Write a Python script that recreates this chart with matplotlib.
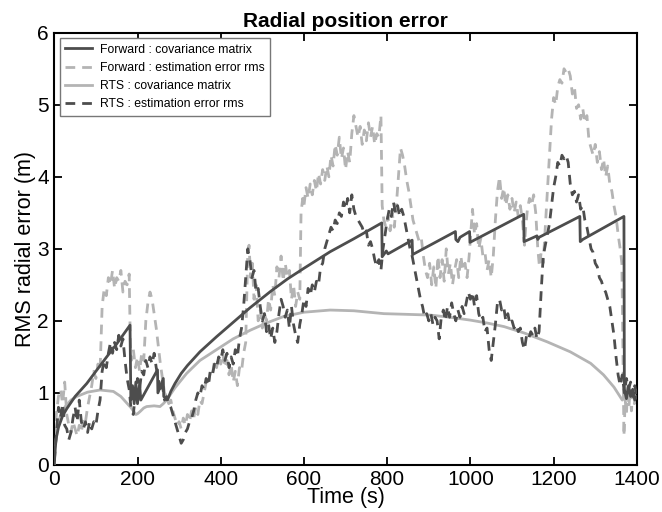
import matplotlib
matplotlib.use("Agg")
import matplotlib.pyplot as plt

plt.rcParams['font.family'] = ['Liberation Sans', 'DejaVu Sans']

# Forward : covariance matrix (time, value)
fwd_cov = [(0,0),(2,0.22),(5,0.38),(10,0.52),(20,0.68),(30,0.78),(50,0.95),(78,1.13),(100,1.3),
           (126,1.5),(150,1.68),(182,1.94),(184,0.9),(188,1.1),(192,0.85),(196,1.15),(200,0.85),
           (205,1.12),(208,0.9),(248,1.32),(249,1.0),(262,1.2),(263,0.95),(272,0.9),(280,1.02),
           (290,1.13),(305,1.27),(320,1.38),(350,1.57),(390,1.78),(430,1.98),(470,2.18),(520,2.41),
           (560,2.58),(600,2.73),(663,2.96),(720,3.14),(787,3.36),(788,2.89),(798,2.97),(802,2.93),
           (860,3.12),(861,2.92),(964,3.24),(965,3.13),(970,3.1),(975,3.16),(998,3.24),(999,3.09),
           (1128,3.48),(1129,3.1),(1160,3.18),(1162,3.13),(1165,3.16),(1263,3.45),(1264,3.1),
           (1270,3.13),(1369,3.45),(1370,1.05),(1375,0.92),(1380,1.1),(1385,0.95),(1390,1.05),
           (1395,0.9),(1400,0.95)]

# RTS : covariance matrix
rts_cov = [(0,0),(3,0.3),(8,0.5),(14,0.67),(25,0.8),(40,0.9),(54,0.95),(80,1.01),(110,1.04),
           (142,1.02),(160,0.95),(174,0.86),(185,0.79),(196,0.7),(200,0.71),(206,0.74),(215,0.79),
           (222,0.81),(240,0.82),(254,0.81),(262,0.85),(270,0.9),(290,1.07),(318,1.27),(350,1.45),
           (390,1.6),(430,1.75),(471,1.87),(510,1.97),(551,2.06),(600,2.12),(663,2.15),(720,2.14),
           (792,2.1),(850,2.09),(904,2.08),(950,2.05),(1000,2.01),(1040,1.97),(1081,1.92),
           (1130,1.83),(1184,1.71),(1240,1.57),(1289,1.41),(1320,1.25),(1345,1.08),(1365,0.9),
           (1375,0.97),(1385,1.03),(1400,1.03)]

# Forward : estimation error rms
fwd_err = [(0,0.15),(5,0.7),(10,0.95),(15,1.05),(20,0.85),(25,1.15),(30,0.7),(35,0.55),(40,0.45),
           (45,0.6),(50,0.5),(55,0.4),(60,0.55),(65,0.45),(70,0.65),(75,0.6),(80,0.8),(85,0.95),
           (90,1.1),(95,1.3),(100,1.2),(105,1.4),(110,1.3),(115,2.2),(120,2.45),(125,2.35),(130,2.6),
           (135,2.5),(140,2.7),(145,2.45),(150,2.6),(155,2.55),(160,2.7),(165,2.4),(170,2.55),
           (175,2.5),(180,2.65),(183,1.6),(185,1.45),(190,1.6),(195,1.35),(200,1.5),(205,1.3),
           (210,1.55),(215,1.45),(220,2.0),(225,2.25),(230,2.4),(235,2.3),(240,2.1),(245,1.9),
           (250,1.65),(255,1.4),(260,1.2),(265,1.0),(270,0.95),(275,0.85),(280,0.9),(285,0.75),
           (290,0.65),(295,0.55),(300,0.6),(305,0.5),(310,0.65),(315,0.55),(320,0.7),(325,0.6),
           (330,0.75),(335,0.65),(340,0.8),(345,0.7),(350,0.9),(355,0.85),(360,1.0),(365,1.15),
           (370,1.1),(375,1.3),(380,1.25),(385,1.45),(390,1.35),(395,1.5),(400,1.4),(405,1.55),
           (410,1.35),(415,1.45),(420,1.25),(425,1.4),(430,1.15),(435,1.3),(440,1.1),(445,1.35),
           (450,1.3),(455,1.55),(460,1.7),(465,2.95),(468,3.05),(472,2.6),(476,2.8),(480,2.3),
           (485,2.5),(490,2.0),(495,2.15),(500,1.9),(505,2.1),(510,2.0),(515,2.3),(520,2.15),
           (525,2.5),(530,2.35),(535,2.75),(540,2.6),(545,2.9),(550,2.55),(555,2.8),(560,2.6),
           (565,2.7),(570,2.3),(575,2.5),(580,2.2),(585,2.4),(590,2.3),(593,3.5),(597,3.7),
           (600,3.6),(605,3.85),(610,3.7),(615,3.9),(620,3.75),(625,3.95),(630,3.8),(635,4.05),
           (640,3.9),(645,4.1),(650,3.95),(655,4.15),(660,4.0),(665,4.3),(670,4.15),(675,4.45),
           (680,4.3),(685,4.55),(690,4.25),(695,4.4),(700,4.1),(705,4.35),(710,4.2),(715,4.6),
           (720,4.85),(725,4.7),(730,4.55),(735,4.7),(740,4.45),(745,4.65),(750,4.5),(755,4.75),
           (760,4.55),(765,4.7),(770,4.45),(775,4.6),(780,4.55),(785,4.85),(788,3.6),(792,3.4),
           (797,3.3),(802,3.45),(807,3.25),(812,3.5),(817,3.3),(822,3.6),(827,4.0),(832,4.4),
           (837,4.3),(842,4.15),(847,3.95),(852,3.8),(857,3.6),(862,3.4),(867,3.3),(872,3.2),
           (877,3.1),(882,3.15),(887,2.9),(892,2.7),(897,2.6),(902,2.8),(907,2.5),(912,2.75),
           (917,2.45),(922,2.9),(927,2.6),(932,2.85),(937,2.55),(942,3.0),(947,2.65),(952,2.8),
           (957,2.5),(962,2.7),(967,2.85),(972,2.6),(977,2.9),(982,2.7),(987,2.8),(992,2.6),
           (997,2.9),(1002,3.3),(1005,3.55),(1010,3.2),(1015,3.35),(1020,3.0),(1025,3.15),
           (1030,2.9),(1035,2.95),(1040,2.7),(1045,2.85),(1050,2.6),(1055,2.9),(1060,3.4),
           (1065,3.8),(1070,4.0),(1075,3.7),(1080,3.85),(1085,3.6),(1090,3.75),(1095,3.55),
           (1100,3.7),(1105,3.5),(1110,3.65),(1115,3.45),(1120,3.6),(1125,3.4),(1130,3.05),
           (1133,3.3),(1137,3.55),(1142,3.7),(1147,3.6),(1152,3.75),(1157,3.5),(1162,3.0),
           (1166,2.75),(1170,2.95),(1175,2.8),(1180,3.3),(1185,3.8),(1190,4.3),(1195,4.8),
           (1200,5.1),(1205,5.0),(1210,5.25),(1215,5.35),(1220,5.3),(1225,5.5),(1230,5.45),
           (1235,5.5),(1240,5.4),(1245,5.15),(1250,5.25),(1255,4.95),(1260,5.0),(1265,4.8),
           (1270,4.95),(1275,4.75),(1280,4.85),(1285,4.5),(1290,4.4),(1295,4.3),(1300,4.45),
           (1305,4.2),(1310,4.35),(1315,4.1),(1320,4.25),(1325,4.0),(1330,4.15),(1335,3.9),
           (1340,3.8),(1345,3.6),(1350,3.45),(1355,3.2),(1360,3.0),(1364,2.8),(1367,1.3),
           (1369,0.4),(1372,0.9),(1375,0.7),(1378,1.1),(1381,0.8),(1384,1.05),(1387,0.75),
           (1390,1.0),(1394,0.85),(1398,1.05),(1400,0.9)]

# RTS : estimation error rms
rts_err = [(0,0.05),(5,0.45),(10,0.8),(15,0.65),(20,0.85),(25,0.55),(30,0.5),(35,0.35),(40,0.45),
           (45,0.65),(50,0.8),(55,0.6),(60,0.9),(65,0.6),(70,0.5),(75,0.6),(80,0.45),(85,0.6),
           (90,0.5),(95,0.6),(100,0.55),(105,0.75),(110,0.9),(115,1.3),(120,1.45),(125,1.35),
           (130,1.55),(135,1.7),(140,1.55),(145,1.7),(150,1.6),(155,1.8),(160,1.65),(165,1.75),
           (170,1.45),(175,1.2),(180,1.05),(185,0.75),(190,0.7),(195,1.0),(200,1.2),(205,1.05),
           (210,1.3),(215,1.25),(220,1.45),(225,1.35),(230,1.5),(235,1.4),(240,1.55),(245,1.35),
           (250,1.2),(255,1.0),(260,1.1),(265,0.9),(270,0.95),(275,0.85),(280,0.8),(285,0.7),
           (290,0.6),(295,0.5),(300,0.4),(305,0.3),(310,0.35),(315,0.45),(320,0.5),(325,0.6),
           (330,0.65),(335,0.75),(340,0.9),(345,1.0),(350,0.95),(355,1.1),(360,1.05),(365,1.2),
           (370,1.1),(375,1.3),(380,1.25),(385,1.4),(390,1.35),(395,1.5),(400,1.45),(405,1.6),
           (410,1.45),(415,1.55),(420,1.35),(425,1.5),(430,1.4),(435,1.6),(440,1.5),(445,1.75),
           (450,1.9),(455,2.2),(460,2.6),(465,3.0),(470,2.85),(475,2.6),(480,2.7),(485,2.4),
           (490,2.45),(495,2.2),(500,2.0),(505,2.1),(510,1.85),(515,1.95),(520,1.75),(525,1.9),
           (530,1.7),(535,1.85),(540,2.1),(545,2.3),(550,2.2),(555,2.05),(560,2.15),(565,1.9),
           (570,2.2),(575,1.95),(580,1.8),(585,1.7),(590,1.95),(595,2.1),(600,2.3),(605,2.2),
           (610,2.45),(615,2.35),(620,2.5),(625,2.4),(630,2.55),(635,2.5),(640,2.75),(645,2.8),
           (650,3.0),(655,3.1),(660,3.2),(665,3.3),(670,3.25),(675,3.4),(680,3.35),(685,3.5),
           (690,3.45),(695,3.65),(700,3.55),(705,3.7),(710,3.5),(715,3.75),(720,3.55),(725,3.45),
           (730,3.4),(735,3.35),(740,3.3),(745,3.2),(750,3.25),(755,3.05),(760,3.1),(765,3.0),
           (770,2.85),(775,2.75),(780,2.85),(785,2.7),(790,3.0),(795,3.2),(800,3.4),(805,3.55),
           (810,3.45),(815,3.65),(820,3.5),(825,3.6),(830,3.45),(835,3.55),(840,3.45),(845,3.3),
           (850,3.15),(855,3.0),(860,2.9),(865,2.75),(870,2.6),(875,2.45),(880,2.3),(885,2.2),
           (890,2.05),(895,2.1),(900,2.0),(905,2.1),(910,1.95),(915,2.05),(920,2.0),(925,1.75),
           (930,2.05),(935,2.15),(940,2.0),(945,2.2),(950,2.05),(955,2.25),(960,2.1),(965,2.0),
           (970,2.15),(975,2.05),(980,2.2),(985,2.1),(990,2.25),(995,2.4),(1000,2.3),(1005,2.4),
           (1010,2.2),(1015,2.35),(1020,2.1),(1025,2.0),(1030,2.05),(1035,1.85),(1040,1.9),
           (1045,1.6),(1050,1.45),(1055,1.7),(1060,1.95),(1065,2.25),(1070,2.3),(1075,2.15),
           (1080,2.2),(1085,2.0),(1090,2.1),(1095,1.95),(1100,2.0),(1105,1.9),(1110,1.95),
           (1115,1.85),(1120,1.9),(1125,1.7),(1130,1.6),(1135,1.8),(1140,1.75),(1145,1.85),
           (1150,1.8),(1155,1.9),(1160,1.75),(1165,1.85),(1170,2.4),(1175,2.9),(1180,3.05),
           (1185,3.2),(1190,3.35),(1195,3.6),(1200,3.85),(1205,4.0),(1210,4.2),(1215,4.15),
           (1220,4.3),(1225,4.25),(1230,4.3),(1235,4.2),(1240,3.9),(1245,3.75),(1250,3.8),
           (1255,3.65),(1260,3.75),(1265,3.55),(1270,3.6),(1275,3.4),(1280,3.3),(1285,3.15),
           (1290,3.0),(1295,2.95),(1300,2.8),(1305,2.75),(1310,2.6),(1315,2.55),(1320,2.45),
           (1325,2.4),(1330,2.3),(1335,2.2),(1340,2.0),(1345,1.8),(1350,1.5),(1355,1.25),
           (1360,1.1),(1365,1.25),(1370,1.0),(1375,1.2),(1380,1.05),(1385,1.15),(1390,0.95),
           (1395,1.1),(1400,0.95)]

labels = ["Forward : covariance matrix", "Forward : estimation error rms",
          "RTS : covariance matrix", "RTS : estimation error rms"]
x_ticks = [0, 200, 400, 600, 800, 1000, 1200, 1400]
y_ticks = [0, 1, 2, 3, 4, 5, 6]

dark = "#4d4d4d"
light = "#b4b4b4"

fig = plt.figure(figsize=(6.62, 5.12), dpi=100)
ax = fig.add_axes([0.082, 0.092, 0.880, 0.844])

def xy(series):
    t, v = zip(*series)
    return list(t), list(v)

t, v = xy(fwd_cov)
ax.plot(t, v, color=dark, lw=2.0, ls='-', label=labels[0], zorder=4)
t, v = xy(fwd_err)
ax.plot(t, v, color=light, lw=2.0, ls=(0, (3.5, 2.5)), label=labels[1], zorder=2)
t, v = xy(rts_cov)
ax.plot(t, v, color=light, lw=2.0, ls='-', label=labels[2], zorder=3)
t, v = xy(rts_err)
ax.plot(t, v, color=dark, lw=2.0, ls=(0, (3.5, 2.5)), label=labels[3], zorder=3)

ax.set_xlim(0, 1400)
ax.set_ylim(0, 6)
ax.set_xticks(x_ticks)
ax.set_yticks(y_ticks)
ax.tick_params(direction='in', top=True, right=True, length=6, width=1.3, labelsize=15, pad=4)
for s in ax.spines.values():
    s.set_linewidth(1.5)

ax.set_title("Radial position error", fontsize=15, fontweight='bold', pad=4)
ax.set_xlabel("Time (s)", fontsize=15.5, labelpad=-2)
ax.set_ylabel("RMS radial error (m)", fontsize=15.5, labelpad=1)

leg = ax.legend(loc='upper left', fontsize=8.8, fancybox=False, framealpha=1,
                edgecolor='#777777', handlelength=2.2, borderpad=0.45, labelspacing=0.5,
                handletextpad=0.6, borderaxespad=0.45)
leg.get_frame().set_linewidth(1.0)

fig.savefig("out.png", dpi=100)
